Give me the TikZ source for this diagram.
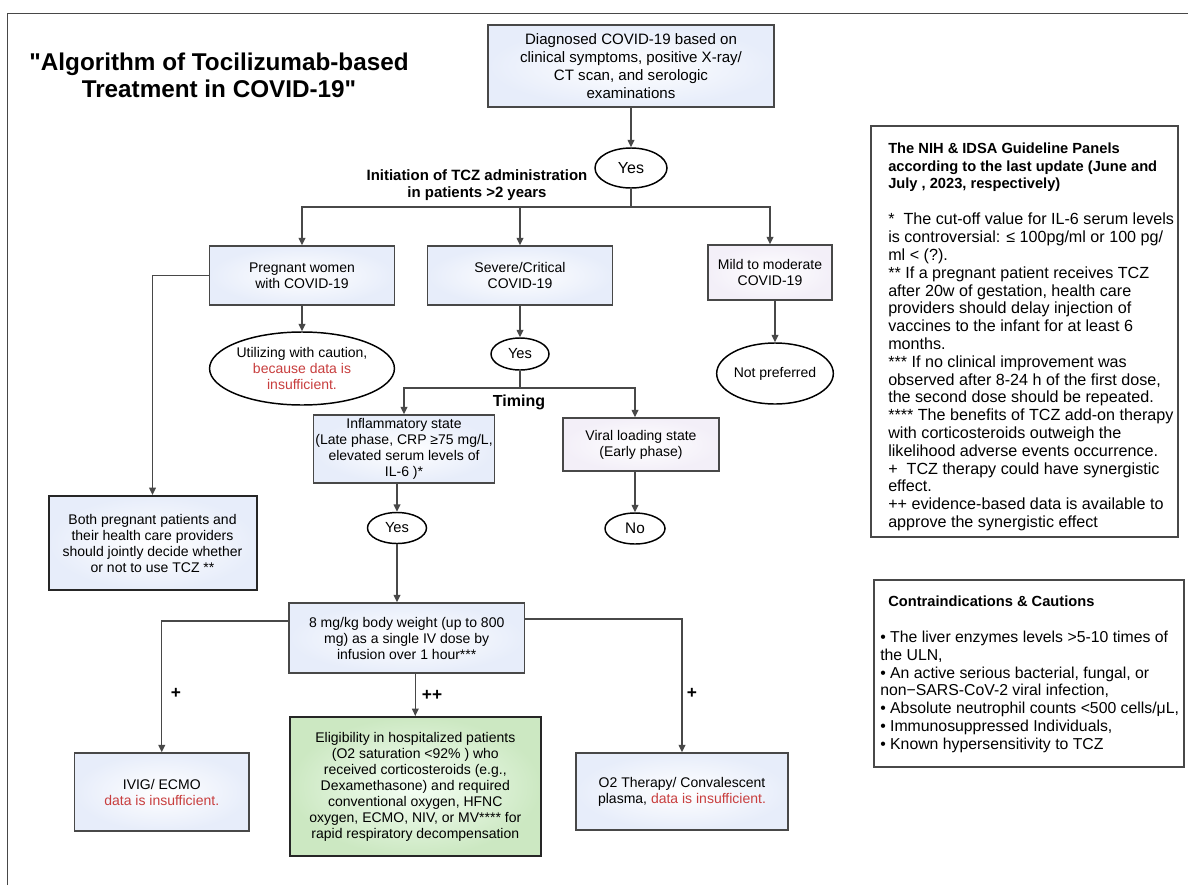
\documentclass[tikz,border=0pt]{standalone}
\usepackage{fontspec}
\setmainfont{Liberation Sans}
\newfontfamily\titlefont{Liberation Sans}[Ligatures=TeXOff]
\usetikzlibrary{shapes.geometric,arrows.meta}

\definecolor{boxblue}{RGB}{231,237,250}
\definecolor{boxlilac}{RGB}{243,239,248}
\definecolor{boxgreen}{RGB}{204,232,194}
\definecolor{linegray}{RGB}{72,72,72}
\definecolor{warnred}{RGB}{200,62,62}

\begin{document}
\begin{tikzpicture}[
    x=0.75pt, y=-0.75pt,
    box/.style={rectangle, draw=linegray, line width=1.1pt,
        inner color=white, outer color=boxblue, align=center,
        inner sep=1pt, font=\fontsize{10.5}{12}\selectfont},
    lilacbox/.style={box, outer color=boxlilac},
    darkbox/.style={box, draw=black!85, line width=1.5pt},
    greenbox/.style={darkbox, inner color=green!4, outer color=boxgreen},
    decision/.style={ellipse, draw=black, line width=1.1pt, fill=white,
        inner sep=0pt, align=center, font=\fontsize{10.5}{12}\selectfont},
    panel/.style={rectangle, draw=linegray, line width=1.1pt, fill=white},
    notehead/.style={align=left, inner sep=0pt,
        font=\bfseries\fontsize{11}{13.1}\selectfont},
    notebody/.style={align=left, inner sep=0pt,
        font=\fontsize{12.1}{13.35}\selectfont},
    tag/.style={font=\bfseries\fontsize{13}{14}\selectfont, inner sep=0pt},
    edge/.style={draw=linegray, line width=1pt},
    arrow/.style={edge, -{Triangle[length=5.5pt,width=5pt]}}
]
    \useasboundingbox (0,0) rectangle (1188,885);
    \draw[edge, line width=1.1pt] (7.7,885) -- (7.7,13.3) -- (1188,13.3);

    \node[align=center, font=\titlefont\bfseries\fontsize{18.2}{20}\selectfont] (title) at (219,75)
        {"Algorithm of Tocilizumab-based\\Treatment in COVID-19"};

    \node[box, minimum width=214.5pt, minimum height=61.5pt,
        font=\fontsize{11.3}{13.5}\selectfont] (diag) at (631,66)
        {Diagnosed COVID-19 based on\\clinical symptoms, positive X-ray/\\CT scan, and serologic\\examinations};
    \node[decision, minimum width=54pt, minimum height=30pt,
        font=\fontsize{12}{14}\selectfont] (yes1) at (631,168) {Yes};
    \node[align=center, font=\bfseries\fontsize{11.2}{12.75}\selectfont] (init) at (477,185.5)
        {Initiation of TCZ administration\\in patients >2 years};
    \coordinate (split1) at (631,207);

    \node[box, minimum width=138.75pt, minimum height=44.25pt] (preg) at (302,275.5)
        {Pregnant women\\with COVID-19};
    \node[box, minimum width=138.75pt, minimum height=44.25pt] (sev) at (520,275.5)
        {Severe/Critical\\COVID-19};
    \node[lilacbox, minimum width=93pt, minimum height=41.25pt] (mild) at (770,272.5)
        {Mild to moderate\\COVID-19};

    \node[decision, minimum width=132pt, minimum height=54.75pt] (util) at (302,368.5)
        {Utilizing with caution,\\\textcolor{warnred}{because data is}\\\textcolor{warnred}{insufficient.}};
    \node[decision, minimum width=43.5pt, minimum height=24pt,
        font=\fontsize{11}{13}\selectfont] (yes2) at (520,354) {Yes};
    \node[decision, minimum width=78.75pt, minimum height=45.75pt] (notpref) at (775,373.5)
        {Not preferred};
    \coordinate (split2) at (520,388);
    \node[font=\bfseries\fontsize{12}{14}\selectfont] (timing) at (519,402) {Timing};

    \node[box, minimum width=135.75pt, minimum height=51pt] (infl) at (404,449)
        {Inflammatory state\\(Late phase, CRP ≥75 mg/L,\\elevated serum levels of\\IL-6 )*};
    \node[lilacbox, minimum width=117pt, minimum height=39.75pt] (viral) at (641,444.5)
        {Viral loading state\\(Early phase)};
    \node[decision, minimum width=44.25pt, minimum height=23.25pt,
        font=\fontsize{11}{13}\selectfont] (yes3) at (397,528) {Yes};
    \node[decision, minimum width=45pt, minimum height=23.25pt,
        font=\fontsize{11.5}{13}\selectfont] (no) at (635,528.5) {No};

    \node[darkbox, minimum width=156pt, minimum height=70.5pt] (both) at (152.5,543)
        {Both pregnant patients and\\their health care providers\\should jointly decide whether\\or not to use TCZ **};

    \node[box, minimum width=176.6pt, minimum height=52.5pt] (dose) at (406.7,638)
        {8 mg/kg body weight (up to 800\\mg) as a single IV dose by\\infusion over 1 hour***};
    \node[box, minimum width=130.9pt, minimum height=58.5pt] (ivig) at (161.75,792)
        {IVIG/ ECMO\\\textcolor{warnred}{data is insufficient.}};
    \node[greenbox, minimum width=188pt, minimum height=104.25pt] (elig) at (415.3,786.5)
        {Eligibility in hospitalized patients\\(O2 saturation <92\% ) who\\received corticosteroids (e.g.,\\Dexamethasone) and required\\conventional oxygen, HFNC\\oxygen, ECMO, NIV, or MV**** for\\rapid respiratory decompensation};
    \node[box, minimum width=159pt, minimum height=57.75pt] (o2) at (682,791.5)
        {O2 Therapy/ Convalescent\\plasma, \textcolor{warnred}{data is insufficient.}};

    \node[tag] (plusl) at (176,693) {+};
    \node[tag] (plusm) at (432,695) {++};
    \node[tag] (plusr) at (692,693) {+};

    \node[panel, minimum width=230.25pt, minimum height=308.25pt] (nih) at (1024.5,331.5) {};
    \node[notehead, anchor=north west] (nihhead) at (888,143)
        {The NIH \& IDSA Guideline Panels\\according to the last update (June and\\July , 2023, respectively)};
    \node[notebody, anchor=north west] (nihbody) at (888,213)
        {*\ \ The cut-off value for IL-6 serum levels\\is controversial: ≤ 100pg/ml or 100 pg/\\ml < (?).\\
        ** If a pregnant patient receives TCZ\\after 20w of gestation, health care\\providers should delay injection of\\vaccines to the infant for at least 6\\months.\\
        *** If no clinical improvement was\\observed after 8-24 h of the first dose,\\the second dose should be repeated.\\
        **** The benefits of TCZ add-on therapy\\with corticosteroids outweigh the\\likelihood adverse events occurrence.\\
        +\ \ TCZ therapy could have synergistic\\effect.\\
        ++ evidence-based data is available to\\approve the synergistic effect};

    \node[panel, minimum width=232.5pt, minimum height=140.25pt] (contra) at (1029,673.5) {};
    \node[notehead, anchor=north west] (contrahead) at (888,596)
        {Contraindications \& Cautions};
    \node[notebody, anchor=north west, font=\fontsize{11.85}{13.3}\selectfont] (contrabody) at (880,631)
        {• The liver enzymes levels >5-10 times of\\the ULN,\\
        • An active serious bacterial, fungal, or\\non−SARS-CoV-2 viral infection,\\
        • Absolute neutrophil counts <500 cells/μL,\\
        • Immunosuppressed Individuals,\\
        • Known hypersensitivity to TCZ};

    \draw[arrow] (diag) -- (yes1);
    \draw[edge] (yes1) -- (split1);
    \draw[arrow] (split1) -| (preg);
    \draw[arrow] (split1) -| (sev);
    \draw[arrow] (split1) -| (mild);
    \draw[arrow] (preg.west) -| (both.north);
    \draw[arrow] (preg) -- (util);
    \draw[arrow] (sev) -- (yes2);
    \draw[arrow] (mild.south -| notpref) -- (notpref);
    \draw[edge] (yes2) -- (split2);
    \draw[arrow] (split2) -| (infl);
    \draw[arrow] (split2) -| (no |- viral.north);
    \draw[arrow] (infl.south -| yes3) -- (yes3);
    \draw[arrow] (viral.south -| no) -- (no);
    \draw[arrow] (yes3) -- (yes3 |- dose.north);
    \draw[arrow] ([yshift=12.75pt]dose.west) -| (ivig.north);
    \draw[arrow] (dose.south -| elig) -- (elig);
    \draw[arrow] ([yshift=14.25pt]dose.east) -| (o2.north);
\end{tikzpicture}
\end{document}
